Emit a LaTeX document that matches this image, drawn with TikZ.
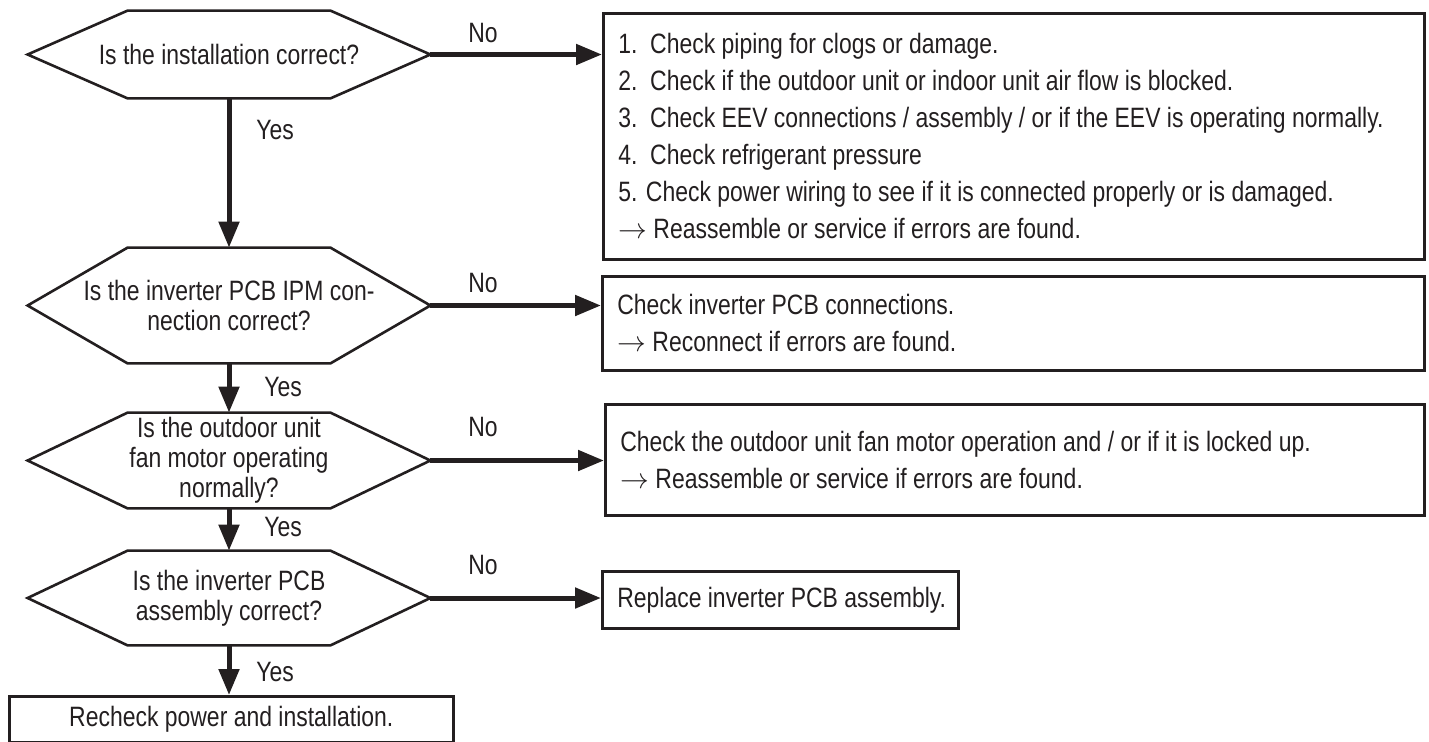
\documentclass[tikz,border=0pt]{standalone}
\usepackage{fontspec}
\setmainfont{Liberation Sans}[FakeStretch=0.82]
\usetikzlibrary{arrows.meta}
\definecolor{ink}{HTML}{231F20}
\begin{document}
\begin{tikzpicture}[x=0.5pt,y=-0.5pt,
  font=\fontsize{14pt}{15pt}\selectfont, text=ink,
  hexbox/.style={draw=none,inner sep=0pt,minimum width=201pt,align=center},
  hexline/.style={draw=ink,line width=1.3pt,line join=miter},
  msgbox/.style={draw=ink,line width=1.3pt,anchor=north west,inner xsep=7.5pt,inner ysep=0pt,
    align=flush left,font=\fontsize{14pt}{18.5pt}\selectfont},
  endbox/.style={draw=ink,line width=1.3pt,anchor=north west,inner sep=0pt,align=center},
  arr/.style={draw=ink,line width=2.5pt,-{Triangle[length=13pt,width=10pt]}},
  lbl/.style={inner sep=0pt}
]
\useasboundingbox (0,0) rectangle (1429,741);

% decisions
\node[hexbox,minimum height=43.5pt] (h1) at (229,54.5) {Is the installation correct?};
\node[hexbox,minimum height=57.5pt] (h2) at (229,305.5) {Is the inverter PCB IPM con-\\nection correct?};
\node[hexbox,minimum height=47.5pt] (h3) at (229,460.5) {Is the outdoor unit\\fan motor operating\\normally?};
\node[hexbox,minimum height=47pt] (h4) at (229,598) {Is the inverter PCB\\assembly correct?};
\foreach \h in {h1,h2,h3,h4}{
  \draw[hexline] (\h.west) -- ([xshift=50pt]\h.north west) -- ([xshift=-50pt]\h.north east)
    -- (\h.east) -- ([xshift=-50pt]\h.south east) -- ([xshift=50pt]\h.south west) -- cycle;
}

% action boxes
\node[msgbox,minimum height=123pt,text width=395.5pt] (b1) at (602,12) {%
\mbox{1.\ \ Check piping for clogs or damage.}\\
\mbox{2.\ \ Check if the outdoor unit or indoor unit air flow is blocked.}\\
\mbox{3.\ \ Check EEV connections / assembly / or if the EEV is operating normally.}\\
\mbox{4.\ \ Check refrigerant pressure}\\
\mbox{5. Check power wiring to see if it is connected properly or is damaged.}\\
\mbox{$\rightarrow$ Reassemble or service if errors are found.}};
\node[msgbox,minimum height=47pt,text width=396pt] (b2) at (601,275) {%
\mbox{Check inverter PCB connections.}\\
\mbox{$\rightarrow$ Reconnect if errors are found.}};
\node[msgbox,minimum height=55.5pt,text width=394.5pt] (b3) at (604,403) {%
\mbox{Check the outdoor unit fan motor operation and / or if it is locked up.}\\
\mbox{$\rightarrow$ Reassemble or service if errors are found.}};
\node[msgbox,minimum height=28.5pt,text width=163pt] (b4) at (601,570) {%
\mbox{Replace inverter PCB assembly.}};
\node[endbox,minimum width=222pt,minimum height=23pt] (b5) at (8,695) {Recheck power and installation.};

% labels
\node[lbl] (n1) at (483,33) {No};
\node[lbl] (n2) at (483,283) {No};
\node[lbl] (n3) at (483,427) {No};
\node[lbl] (n4) at (483,565) {No};
\node[lbl] (y1) at (275,130) {Yes};
\node[lbl] (y2) at (283,387) {Yes};
\node[lbl] (y3) at (283,527) {Yes};
\node[lbl] (y4) at (275,672) {Yes};

% connectors
\draw[arr] (h1.east) -- (h1.east -| b1.west);
\draw[arr] (h2.east) -- (h2.east -| b2.west);
\draw[arr] (h3.east) -- (h3.east -| b3.west);
\draw[arr] (h4.east) -- (h4.east -| b4.west);
\draw[arr] (h1.south) -- (h2.north);
\draw[arr] (h2.south) -- (h3.north);
\draw[arr] (h3.south) -- (h4.north);
\draw[arr] (h4.south) -- (h4.south |- b5.north);
\end{tikzpicture}
\end{document}
